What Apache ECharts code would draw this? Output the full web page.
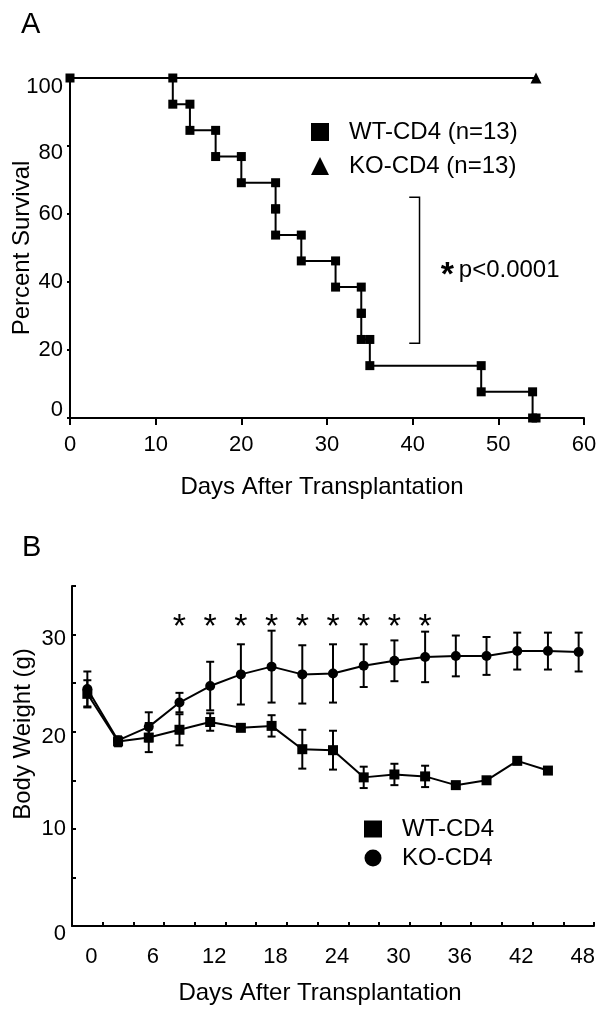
<!DOCTYPE html>
<html><head><meta charset="utf-8">
<script src="https://cdn.jsdelivr.net/npm/echarts@6/dist/echarts.min.js"></script>
<style>html,body{margin:0;padding:0;background:#fff;}#chart{width:610px;height:1012px;}</style>
</head><body><div id="chart"></div>
<script>
// ---------- Panel A: Kaplan-Meier survival ----------
const kmDaysWT = [0, 12, 14, 17, 20, 24, 24, 27, 31, 34, 34, 35, 48, 54];
const kmSurvWT = [100, 92.3, 84.6, 76.9, 69.2, 61.5, 53.8, 46.2, 38.5, 30.8, 23.1, 15.4, 7.7, 0];
const censorWT = [[54.4, 0]];
const kmDaysKO = [0, 54.4];
const kmSurvKO = [100, 100];
const daysTicksA = [0, 10, 20, 30, 40, 50, 60];
const survTicksA = [0, 20, 40, 60, 80, 100];
const sigBracketA = [39.6, 40.8, 22.0, 64.9]; // xLeft, xRight, yBottom, yTop (data units)
const sigTextA = [43.4, 43.5];
const namesA = ['WT-CD4 (n=13)', 'KO-CD4 (n=13)'];

// ---------- Panel B: body weight ----------
const daysB = [0, 3, 6, 9, 12, 15, 18, 21, 24, 27, 30, 33, 36, 39, 42, 45, 48];
const wtMean = [23.9, 19.0, 19.4, 20.2, 21.0, 20.4, 20.6, 18.2, 18.1, 15.3, 15.6, 15.4, 14.5, 15.0, 17.0, 16.0, null];
const wtErr  = [1.4, 0.5, 1.5, 1.6, 0.9, 0.3, 1.1, 2.0, 2.0, 1.1, 1.1, 1.1, 0, 0, 0, 0, null];
const koMean = [24.4, 19.1, 20.5, 23.0, 24.7, 25.9, 26.7, 25.9, 26.0, 26.8, 27.3, 27.7, 27.8, 27.8, 28.3, 28.3, 28.2];
const koErr  = [1.8, 0.4, 1.5, 1.0, 2.5, 3.1, 3.7, 3.0, 3.0, 2.2, 2.1, 2.6, 2.1, 1.95, 1.9, 1.9, 2.0];
const sigDaysB = [9, 12, 15, 18, 21, 24, 27, 30, 33];
const sigLevelB = 31.2;
const weightTicksB = [0, 10, 20, 30];
const namesB = ['WT-CD4', 'KO-CD4'];

const FONT = '"Liberation Sans", Arial, Helvetica, sans-serif';
const BLACK = '#000';

// build KM step corner points from event times
function kmPoints(days, surv) {
  const pts = [[days[0], surv[0]]];
  for (let i = 1; i < days.length; i++) {
    pts.push([days[i], surv[i - 1]]);
    pts.push([days[i], surv[i]]);
  }
  return pts;
}
const ptsWT = kmPoints(kmDaysWT, kmSurvWT).concat(censorWT);
const ptsKO = kmDaysKO.map((d, i) => i === 0 ? { value: [d, kmSurvKO[i]], symbol: 'none' } : [d, kmSurvKO[i]]);

const shiftA = { 100: 9, 80: 7, 0: -8 };
const shiftB = { 30: 4, 20: 5, 0: 8 };
function richShift(map) {
  const r = {};
  Object.keys(map).forEach(k => {
    const s = map[k];
    r['s' + k] = { fontSize: 22, color: BLACK, fontFamily: FONT,
      padding: s > 0 ? [2 * s, 0, 0, 0] : [0, 0, -2 * s, 0] };
  });
  return r;
}
function fmtShift(map) {
  return v => (map[v] !== undefined ? '{s' + v + '|' + v + '}' : String(v));
}

const axisLineStyle = { color: BLACK, width: 2 };
const labelBase = { fontSize: 22, color: BLACK, fontFamily: FONT };
const nameBase = { fontSize: 24, color: BLACK, fontFamily: FONT };

const chart = echarts.init(document.getElementById('chart'), null, { renderer: 'canvas' });

const errRender = (params, api) => {
  const m = api.value(1), e = api.value(2);
  if (m == null || isNaN(m) || !e) return null;
  const top = api.coord([api.value(0), m + e]);
  const bot = api.coord([api.value(0), m - e]);
  const cw = 4;
  const st = { stroke: BLACK, lineWidth: 2 };
  return { type: 'group', children: [
    { type: 'line', shape: { x1: top[0], y1: top[1], x2: bot[0], y2: bot[1] }, style: st },
    { type: 'line', shape: { x1: top[0] - cw, y1: top[1], x2: top[0] + cw, y2: top[1] }, style: st },
    { type: 'line', shape: { x1: bot[0] - cw, y1: bot[1], x2: bot[0] + cw, y2: bot[1] }, style: st }
  ]};
};

const option = {
  animation: false,
  backgroundColor: '#fff',
  title: [
    { text: 'A', left: 21, top: 10, padding: 0, textStyle: { fontSize: 29, fontWeight: 'normal', color: BLACK, fontFamily: FONT } },
    { text: 'B', left: 22, top: 533, padding: 0, textStyle: { fontSize: 29, fontWeight: 'normal', color: BLACK, fontFamily: FONT } }
  ],
  legend: [
    { orient: 'vertical', left: 311, top: 120, padding: 0, itemWidth: 18, itemHeight: 18, itemGap: 10,
      selectedMode: false,
      data: [{ name: namesA[0], icon: 'rect' }, { name: namesA[1], icon: 'triangle' }],
      textStyle: { fontSize: 24, color: BLACK, fontFamily: FONT, padding: [0, 0, 0, 15] } },
    { orient: 'vertical', left: 364, top: 817, padding: 0, itemWidth: 18, itemHeight: 17, itemGap: 5,
      selectedMode: false,
      data: [{ name: namesB[0], icon: 'rect' }, { name: namesB[1], icon: 'circle' }],
      textStyle: { fontSize: 24, color: BLACK, fontFamily: FONT, padding: [0, 0, 0, 15] } }
  ],
  grid: [
    { left: 70, top: 78, width: 514, height: 340, containLabel: false, outerBoundsMode: 'none' },
    { left: 72, top: 586, width: 522, height: 340, containLabel: false, outerBoundsMode: 'none' }
  ],
  xAxis: [
    { gridIndex: 0, type: 'value', min: daysTicksA[0], max: daysTicksA[daysTicksA.length - 1],
      interval: daysTicksA[1] - daysTicksA[0],
      axisLine: { show: true, onZero: false, lineStyle: axisLineStyle },
      axisTick: { show: true, inside: false, length: 7, lineStyle: axisLineStyle },
      axisLabel: Object.assign({ margin: 16 }, labelBase),
      splitLine: { show: false },
      name: 'Days After Transplantation', nameLocation: 'middle', nameGap: 57, nameMoveOverlap: false,
      nameTextStyle: Object.assign({ padding: [0, 10, 0, 0] }, nameBase) },
    { gridIndex: 1, type: 'category', data: daysB.map(String), boundaryGap: true,
      axisLine: { show: true, onZero: false, lineStyle: axisLineStyle },
      axisTick: { show: true, inside: true, length: 4, interval: 0, alignWithLabel: false, lineStyle: axisLineStyle },
      axisLabel: Object.assign({ margin: 20, interval: 1, padding: [0, 0, 0, 8] }, labelBase),
      splitLine: { show: false },
      name: 'Days After Transplantation', nameLocation: 'middle', nameGap: 55, nameMoveOverlap: false,
      nameTextStyle: Object.assign({ padding: [0, 26, 0, 0] }, nameBase) }
  ],
  yAxis: [
    { gridIndex: 0, type: 'value', min: survTicksA[0], max: survTicksA[survTicksA.length - 1],
      interval: survTicksA[1] - survTicksA[0],
      axisLine: { show: true, onZero: false, lineStyle: axisLineStyle },
      axisTick: { show: true, inside: false, length: 3, lineStyle: axisLineStyle },
      axisLabel: Object.assign({ margin: 7, formatter: fmtShift(shiftA), rich: richShift(shiftA) }, labelBase),
      splitLine: { show: false },
      name: 'Percent Survival', nameLocation: 'middle', nameGap: 36, nameRotate: 90, nameMoveOverlap: false,
      nameTextStyle: nameBase },
    { gridIndex: 1, type: 'value', min: 0, max: 35, interval: 5,
      axisLine: { show: true, onZero: false, lineStyle: axisLineStyle },
      axisTick: { show: true, inside: true, length: 4, lineStyle: axisLineStyle },
      axisLabel: Object.assign({ margin: 6,
        formatter: v => weightTicksB.indexOf(v) >= 0 ? fmtShift(shiftB)(v) : '',
        rich: richShift(shiftB) }, labelBase),
      splitLine: { show: false },
      name: 'Body Weight (g)', nameLocation: 'middle', nameGap: 37, nameRotate: 90, nameMoveOverlap: false,
      nameTextStyle: Object.assign({ padding: [0, 0, 0, 44] }, nameBase) }
  ],
  series: [
    { name: namesA[0], type: 'line', xAxisIndex: 0, yAxisIndex: 0, data: ptsWT, clip: false,
      symbol: 'rect', symbolSize: 9, lineStyle: { color: BLACK, width: 2 }, itemStyle: { color: BLACK },
      emphasis: { disabled: true }, z: 3 },
    { name: namesA[1], type: 'line', xAxisIndex: 0, yAxisIndex: 0, data: ptsKO, clip: false,
      symbol: 'triangle', symbolSize: [11, 11], lineStyle: { color: BLACK, width: 2 }, itemStyle: { color: BLACK },
      emphasis: { disabled: true }, z: 2 },
    { type: 'custom', xAxisIndex: 0, yAxisIndex: 0, data: [sigBracketA], clip: false, silent: true,
      renderItem: (p, api) => {
        const a = api.coord([api.value(0), api.value(3)]);
        const b = api.coord([api.value(1), api.value(3)]);
        const c = api.coord([api.value(1), api.value(2)]);
        const d = api.coord([api.value(0), api.value(2)]);
        return { type: 'polyline', shape: { points: [a, b, c, d] }, style: { stroke: BLACK, lineWidth: 1.5, fill: null } };
      } },
    { type: 'custom', xAxisIndex: 0, yAxisIndex: 0, data: [sigTextA], clip: false, silent: true,
      renderItem: (p, api) => {
        const pt = api.coord([api.value(0), api.value(1)]);
        return { type: 'group', children: [
          { type: 'text', x: pt[0] - 1, y: pt[1] + 6, style: { text: '*', font: 'bold 34px ' + FONT, fill: BLACK, textAlign: 'left', textVerticalAlign: 'middle' } },
          { type: 'text', x: pt[0] + 17, y: pt[1], style: { text: 'p<0.0001', font: '24px ' + FONT, fill: BLACK, textAlign: 'left', textVerticalAlign: 'middle' } }
        ]};
      } },
    { name: namesB[0], type: 'line', xAxisIndex: 1, yAxisIndex: 1, data: wtMean, clip: false, connectNulls: false,
      symbol: 'rect', symbolSize: 10, lineStyle: { color: BLACK, width: 2 }, itemStyle: { color: BLACK },
      emphasis: { disabled: true }, z: 3 },
    { name: namesB[1], type: 'line', xAxisIndex: 1, yAxisIndex: 1, data: koMean, clip: false,
      symbol: 'circle', symbolSize: 10, lineStyle: { color: BLACK, width: 2 }, itemStyle: { color: BLACK },
      emphasis: { disabled: true }, z: 3 },
    { type: 'custom', xAxisIndex: 1, yAxisIndex: 1, silent: true, clip: false,
      data: wtMean.map((m, i) => [i, m, wtErr[i]]), encode: { x: 0, y: 1 }, renderItem: errRender, z: 2 },
    { type: 'custom', xAxisIndex: 1, yAxisIndex: 1, silent: true, clip: false,
      data: koMean.map((m, i) => [i, m, koErr[i]]), encode: { x: 0, y: 1 }, renderItem: errRender, z: 2 },
    { type: 'custom', xAxisIndex: 1, yAxisIndex: 1, silent: true, clip: false,
      data: sigDaysB.map(d => [daysB.indexOf(d), sigLevelB]), encode: { x: 0, y: 1 },
      renderItem: (p, api) => {
        const pt = api.coord([api.value(0), api.value(1)]);
        return { type: 'text', x: pt[0], y: pt[1] + 5, style: { text: '*', font: '34px ' + FONT, fill: BLACK, textAlign: 'center', textVerticalAlign: 'middle' } };
      } }
  ]
};
chart.setOption(option);
</script>
</body></html>
